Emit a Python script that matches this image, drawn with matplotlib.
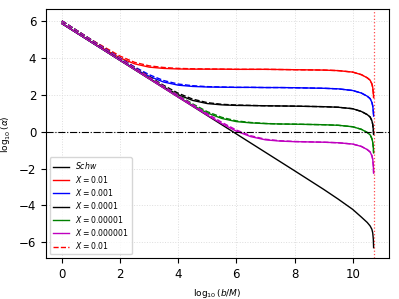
import matplotlib
matplotlib.use('Agg')
from matplotlib import pyplot as plt

# log10(b/M) sample points
x = [0, 1, 2, 2.5, 3, 3.5, 4, 4.5, 5, 5.5, 6, 6.5, 7, 7.5, 8, 9, 9.5, 10,
     10.3, 10.5, 10.6, 10.66, 10.69, 10.71, 10.72]

schw = [5.88, 4.88, 3.88, 3.38, 2.88, 2.38, 1.88, 1.38, 0.88, 0.38, -0.12, -0.62, -1.12, -1.62,
        -2.12, -3.13, -3.66, -4.22, -4.64, -4.93, -5.12, -5.3, -5.5, -5.85, -6.3]

x_1e2 = [5.88, 4.89, 4.01, 3.69, 3.51, 3.44, 3.41, 3.40, 3.40, 3.40, 3.39, 3.39, 3.39, 3.38,
         3.37, 3.35, 3.32, 3.24, 3.1, 2.93, 2.8, 2.6, 2.4, 2.1, 1.85]
x_1e3 = [5.88, 4.88, 3.89, 3.42, 3.01, 2.70, 2.53, 2.46, 2.43, 2.42, 2.41, 2.41, 2.40, 2.40,
         2.39, 2.36, 2.33, 2.24, 2.1, 1.93, 1.8, 1.6, 1.4, 1.1, 0.85]
x_1e4 = [5.88, 4.88, 3.88, 3.39, 2.90, 2.43, 2.01, 1.70, 1.53, 1.46, 1.43, 1.42, 1.41, 1.40,
         1.39, 1.36, 1.33, 1.25, 1.1, 0.93, 0.8, 0.6, 0.4, 0.1, -0.15]
x_1e5 = [5.88, 4.88, 3.88, 3.38, 2.88, 2.39, 1.90, 1.43, 1.02, 0.72, 0.55, 0.48, 0.44, 0.42,
         0.41, 0.38, 0.35, 0.27, 0.13, -0.04, -0.17, -0.37, -0.57, -0.87, -1.15]
x_1e6 = [5.88, 4.88, 3.88, 3.38, 2.88, 2.38, 1.88, 1.39, 0.90, 0.44, 0.03, -0.27, -0.44, -0.51,
         -0.54, -0.57, -0.60, -0.67, -0.8, -0.97, -1.1, -1.3, -1.5, -1.85, -2.25]

# dashed counterparts
d_1e2 = [6.02, 5.01, 4.11, 3.77, 3.58, 3.49, 3.44, 3.42, 3.41, 3.40, 3.39, 3.39, 3.39, 3.38,
         3.37, 3.35, 3.32, 3.24, 3.1, 2.93, 2.8, 2.6, 2.4, 2.1, 1.85]
d_1e3 = [6.02, 5.0, 4.0, 3.52, 3.10, 2.78, 2.59, 2.50, 2.45, 2.43, 2.41, 2.41, 2.40, 2.40,
         2.39, 2.36, 2.33, 2.24, 2.1, 1.93, 1.8, 1.6, 1.4, 1.1, 0.85]
d_1e4 = [6.02, 5.0, 3.99, 3.49, 3.0, 2.52, 2.09, 1.77, 1.58, 1.49, 1.45, 1.43, 1.41, 1.40,
         1.39, 1.36, 1.33, 1.25, 1.1, 0.93, 0.8, 0.6, 0.4, 0.1, -0.15]
d_1e5 = [6.02, 5.0, 3.99, 3.48, 2.98, 2.48, 1.99, 1.51, 1.09, 0.78, 0.59, 0.50, 0.45, 0.42,
         0.41, 0.38, 0.35, 0.27, 0.13, -0.04, -0.17, -0.37, -0.57, -0.87, -1.15]
d_1e6 = [6.02, 5.0, 3.99, 3.48, 2.97, 2.47, 1.97, 1.47, 0.98, 0.51, 0.09, -0.22, -0.41, -0.49,
         -0.53, -0.57, -0.60, -0.67, -0.8, -0.97, -1.1, -1.3, -1.5, -1.85, -2.25]

b_max = 10.72

fig = plt.figure(figsize=(3.99, 2.99), dpi=100)
ax = fig.add_axes([0.115, 0.136, 0.86, 0.834])

ax.plot(x, schw, 'k-', lw=1, label=r'$Schw$')
ax.plot(x, x_1e2, 'r-', lw=1, label=r'$X = 0.01$')
ax.plot(x, x_1e3, 'b-', lw=1, label=r'$X = 0.001$')
ax.plot(x, x_1e4, 'k-', lw=1, label=r'$X = 0.0001$')
ax.plot(x, x_1e5, 'g-', lw=1, label=r'$X = 0.00001$')
ax.plot(x, x_1e6, 'm-', lw=1, label=r'$X = 0.000001$')
ax.plot(x, d_1e2, 'r--', lw=1, label=r'$X = 0.01$')
ax.plot(x, d_1e3, 'b--', lw=1)
ax.plot(x, d_1e4, 'k--', lw=1)
ax.plot(x, d_1e5, 'g--', lw=1)
ax.plot(x, d_1e6, 'm--', lw=1)

ax.axhline(0, color='k', ls='-.', lw=0.8)
ax.axvline(b_max, color='red', ls=':', lw=0.9, alpha=0.7)

ax.set_xlim(-0.55, 11.25)
ax.set_ylim(-6.88, 6.67)
ax.set_xticks([0, 2, 4, 6, 8, 10])
ax.set_yticks([-6, -4, -2, 0, 2, 4, 6])
ax.tick_params(labelsize=8.5)
ax.grid(True, ls=':', color='#dddddd', lw=0.7)
ax.set_xlabel(r'$\log_{10}(b/M)$', fontsize=6.5)
ax.set_ylabel(r'$\log_{10}(\hat{\alpha})$', fontsize=6.5)
ax.legend(loc='lower left', fontsize=5.6, handlelength=2.1, labelspacing=0.3)

plt.savefig('out.png', dpi=100)
